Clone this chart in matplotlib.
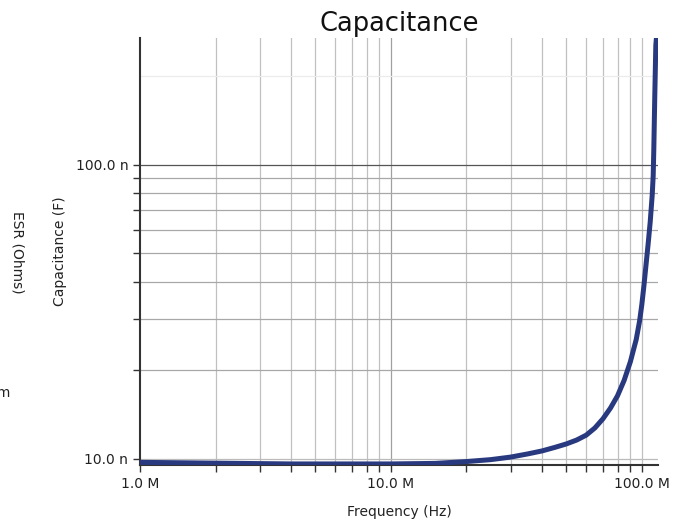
import numpy as np
import matplotlib
matplotlib.use("Agg")
import matplotlib.pyplot as plt
from matplotlib.ticker import FixedLocator, FuncFormatter, NullFormatter

# values (frequency in MHz, capacitance in nF)
freq_mhz = [1, 2, 4, 10, 15, 20, 25, 30, 35, 40, 45, 50, 55, 60, 65, 70, 75,
            80, 85, 90, 95, 98, 100, 102, 104, 106, 108, 110, 111, 111.6,
            112.6, 113.7, 115.5]
cap_nf = [9.74, 9.68, 9.62, 9.62, 9.66, 9.8, 9.95, 10.15, 10.4, 10.65, 10.95,
          11.25, 11.6, 12.05, 12.75, 13.7, 14.9, 16.4, 18.5, 21.4, 25.5, 29.5,
          33.5, 39.0, 46.0, 54.0, 64.0, 79.0, 92.0, 112.0, 170.0, 255.0, 300.0]

x_major = [1e6, 1e7, 1e8]
y_major = [1e-8, 1e-7]

LINE = "#29397f"

freq = np.array(freq_mhz) * 1e6
cap = np.array(cap_nf) * 1e-9

fig = plt.figure(figsize=(6.85, 5.24), dpi=100)
ax = fig.add_axes([140 / 685, 1 - 465 / 524, 518 / 685, 427 / 524])
ax.set_xscale("log")
ax.set_yscale("log")
ax.set_xlim(1e6, 1.16e8)
ax.set_ylim(9.54e-9, 2.7e-7)

# grid
x_minor = [m * d for d in (1e6, 1e7) for m in range(2, 10)] + [1e8]
for xv in x_minor:
    ax.axvline(xv, color="#c0c0c0", lw=0.9, zorder=0)
ax.axvline(1e7, color="#a0a0a0", lw=0.9, zorder=0)
y_minor = [m * 1e-8 for m in range(2, 10)]
for yv in y_minor:
    ax.axhline(yv, color="#a8a8a8", lw=0.9, zorder=0)
ax.axhline(1e-7, color="#555555", lw=0.9, zorder=0)
ax.axhline(1e-8, color="#bbbbbb", lw=0.9, zorder=0)
ax.axhline(2e-7, color="#ececec", lw=0.9, zorder=0)

ax.plot(freq, cap, color=LINE, lw=3.6, solid_capstyle="butt",
        solid_joinstyle="round", zorder=3)

ax.xaxis.set_major_locator(FixedLocator(x_major))
ax.xaxis.set_minor_locator(FixedLocator(x_minor))
ax.yaxis.set_major_locator(FixedLocator(y_major))
ax.yaxis.set_minor_locator(FixedLocator(y_minor))
ax.xaxis.set_major_formatter(FuncFormatter(lambda v, p: f"{v / 1e6:.1f} M"))
ax.yaxis.set_major_formatter(FuncFormatter(lambda v, p: f"{v / 1e-9:.1f} n"))
ax.xaxis.set_minor_formatter(NullFormatter())
ax.yaxis.set_minor_formatter(NullFormatter())
ax.tick_params(which="both", length=5, width=1.0, color="#333333",
               labelsize=10, labelcolor="#222222")

for s in ("top", "right"):
    ax.spines[s].set_visible(False)
for s in ("left", "bottom"):
    ax.spines[s].set_color("#333333")
    ax.spines[s].set_linewidth(1.5)

ax.set_title("Capacitance", fontsize=18.5, pad=5, color="#111111")
ax.set_xlabel("Frequency (Hz)", fontsize=10, labelpad=10, color="#222222")
ax.set_ylabel("Capacitance (F)", fontsize=10, labelpad=6, color="#222222")

# secondary axis labels cut off at the left edge
fig.text(17 / 685, 1 - 252 / 524, "ESR (Ohms)", rotation=270, ha="center",
         va="center", fontsize=10, color="#222222")
fig.text(10 / 685, 1 - 393 / 524, "100.0 m", ha="right", va="center",
         fontsize=10, color="#222222")

fig.savefig("out.png", dpi=100)
